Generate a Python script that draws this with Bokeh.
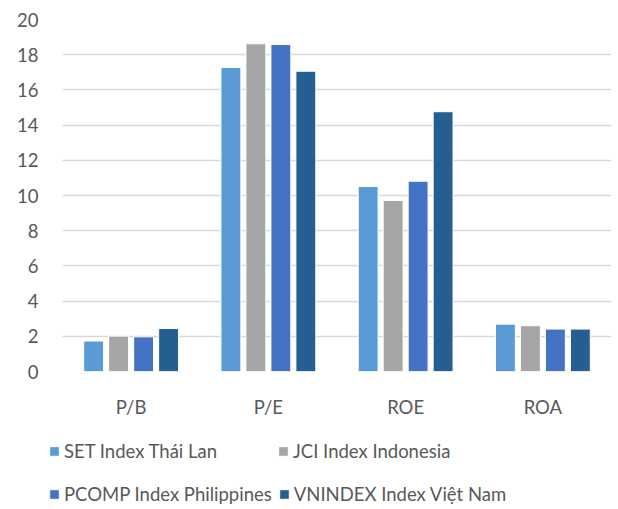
from bokeh.plotting import figure
from bokeh.models import FactorRange, FixedTicker, Legend, LegendItem, ColumnDataSource
from bokeh.layouts import column, row
from bokeh.transform import dodge
from bokeh.embed import file_html
from bokeh.resources import INLINE

categories = ["P/B", "P/E", "ROE", "ROA"]
series_names = ["SET Index Thái Lan", "JCI Index Indonesia", "PCOMP Index Philippines", "VNINDEX Index Việt Nam"]
set_vals = [1.73, 17.27, 10.51, 2.69]
jci_vals = [2.01, 18.62, 9.72, 2.60]
pcomp_vals = [1.97, 18.58, 10.81, 2.41]
vn_vals = [2.44, 17.06, 14.76, 2.41]
colors = ["#5B9BD5", "#A5A5A5", "#4472C4", "#255E91"]
y_ticks = [0, 2, 4, 6, 8, 10, 12, 14, 16, 18, 20]

FONT = "Lato"
TXT = "#595959"
FS = "18.5px"

src = ColumnDataSource(dict(cat=categories, s0=set_vals, s1=jci_vals, s2=pcomp_vals, s3=vn_vals))

p = figure(x_range=FactorRange(*categories), y_range=(0, 20), width=616, height=420,
           output_backend="svg", toolbar_location=None,
           min_border_left=62, min_border_right=5, min_border_top=19, min_border_bottom=46)
p.outline_line_color = None

offsets = [-0.273, -0.091, 0.091, 0.273]
for i, key in enumerate(["s0", "s1", "s2", "s3"]):
    p.vbar(x=dodge("cat", offsets[i], range=p.x_range), top=key, width=0.145, source=src,
           fill_color=colors[i], line_color="white", line_width=1)

p.yaxis.ticker = FixedTicker(ticks=y_ticks)
p.yaxis.axis_line_color = None
p.yaxis.major_tick_line_color = None
p.yaxis.minor_tick_line_color = None
p.yaxis.major_label_standoff = 18
p.xaxis.axis_line_color = None
p.xaxis.major_tick_line_color = None
p.xaxis.major_label_standoff = 18
for ax in (p.xaxis, p.yaxis):
    ax.major_label_text_font = FONT
    ax.major_label_text_font_size = FS
    ax.major_label_text_color = TXT

p.xgrid.grid_line_color = None
p.ygrid.grid_line_color = "#D9D9D9"
p.ygrid.grid_line_width = 1.5

# legend figure (legend swatches use renderers whose data lie outside the visible range)
p2 = figure(width=616, height=89, x_range=(0, 1), y_range=(0, 1),
            x_axis_location=None, y_axis_location=None,
            output_backend="svg", toolbar_location=None,
            min_border_left=48, min_border_right=0, min_border_top=0, min_border_bottom=0)
p2.grid.visible = False
p2.outline_line_color = None
hidden = ColumnDataSource(dict(x=[-10], top=[-10]))
items = []
for i in range(4):
    r = p2.vbar(x="x", top="top", width=0.1, source=hidden, fill_color=colors[i],
                line_color="white", line_width=1)
    items.append(LegendItem(label=series_names[i], renderers=[r]))

common = dict(orientation="horizontal", label_text_font=FONT, label_text_font_size=FS,
              label_text_color=TXT, glyph_width=12, glyph_height=12, label_standoff=4,
              spacing=6, label_height=20, label_width=207, padding=0, margin=0,
              border_line_color=None, background_fill_alpha=0)
leg1 = Legend(items=[items[0], items[1]], location=(0, 47), **common)
leg2 = Legend(items=[items[2], items[3]], location=(0, 4), **common)
p2.add_layout(leg1, "center")
p2.add_layout(leg2, "center")

open("out.html", "w").write(file_html(column(p, row(p2)), INLINE))
